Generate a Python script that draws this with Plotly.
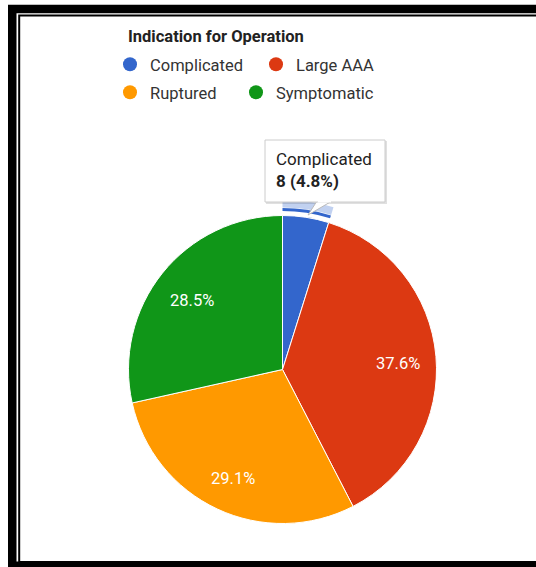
import math
import plotly.graph_objects as go

# ---- data ----
categories = ["Complicated", "Large AAA", "Ruptured", "Symptomatic"]
counts = [8, 62, 48, 47]
colors = ["#3366CC", "#DC3912", "#FF9900", "#109618"]
legend_title = "Indication for Operation"
tooltip_category = "Complicated"

W, H = 536, 567
total = sum(counts)

def px(x):
    return x / W

def py(y):
    return 1 - y / H

cx, cy, R = 282.5, 369.5, 154

def dom(r):
    return dict(x=[px(cx - r), px(cx + r)], y=[py(cy + r), py(cy - r)])

fig = go.Figure()

# hover highlight rings (outer light, inner dark) for the tooltip slice
ti = categories.index(tooltip_category)
ring_light = ["rgba(0,0,0,0)"] * len(categories)
ring_light[ti] = "rgba(51,102,204,0.3)"
ring_dark = ["rgba(0,0,0,0)"] * len(categories)
ring_dark[ti] = colors[ti]

fig.add_trace(go.Pie(labels=categories, values=counts, sort=False, direction="clockwise",
                     domain=dom(170), hole=162 / 170, marker=dict(colors=ring_light, line=dict(width=0)),
                     textinfo="none", hoverinfo="skip", showlegend=False))
fig.add_trace(go.Pie(labels=categories, values=counts, sort=False, direction="clockwise",
                     domain=dom(161.5), hole=158.5 / 161.5, marker=dict(colors=ring_dark, line=dict(width=0)),
                     textinfo="none", hoverinfo="skip", showlegend=False))

fig.add_trace(go.Pie(
    labels=categories, values=counts, sort=False, direction="clockwise",
    domain=dom(R),
    marker=dict(colors=colors, line=dict(color="white", width=1)),
    textinfo="none",
    showlegend=False,
))

# legend entries (circles), one legend per entry for Google-like flow layout
legend_ids = ["legend", "legend2", "legend3", "legend4"]
for c, col, lg in zip(categories, colors, legend_ids):
    fig.add_trace(go.Scatter(x=[None], y=[None], mode="markers", name=c,
                             marker=dict(color=col, size=14, symbol="circle"),
                             legend=lg))

fig.update_xaxes(visible=False)
fig.update_yaxes(visible=False)

legend_common = dict(orientation="h", xanchor="left", yanchor="top", bgcolor="rgba(0,0,0,0)",
                     font=dict(family="Roboto", size=16.5, color="#333"), itemclick=False)

annotations = []
# slice percentage labels at 3/4 of radius, mid-angle of each slice
cum = 0
for c in counts:
    frac = c / total
    mid = (cum + c / 2) / total
    cum += c
    if frac < 0.05:
        continue
    th = 2 * math.pi * mid
    r = 0.755 * R
    annotations.append(dict(text=f"{frac * 100:.1f}%", xref="paper", yref="paper",
                            x=px(cx + r * math.sin(th)), y=py(cy + 4 - r * math.cos(th)),
                            xanchor="center", yanchor="middle", showarrow=False,
                            font=dict(family="Roboto", size=16.5, color="white")))

def rect(x0, x1, y0, y1, color="black"):
    return dict(type="rect", xref="paper", yref="paper", x0=px(x0), x1=px(x1), y0=py(y1), y1=py(y0),
                fillcolor=color, line=dict(width=0))

shapes = [
    # frame: thick outer band (right side runs off the canvas)
    dict(type="rect", xref="paper", yref="paper", x0=px(12.25), x1=px(600), y0=py(565.7), y1=py(9),
         fillcolor="rgba(0,0,0,0)", line=dict(color="black", width=8.5)),
    # frame: thin inner line
    dict(type="rect", xref="paper", yref="paper", x0=px(19.2), x1=px(600), y0=py(562), y1=py(15.5),
         fillcolor="rgba(0,0,0,0)", line=dict(color="black", width=2)),
]

# tooltip box
bx0, bx1, by0, by1 = 265, 385, 140, 202
shapes.append(rect(bx0 + 1, bx1 + 2, by0 + 1, by1 + 2, "rgba(0,0,0,0.12)"))
shapes.append(dict(type="path", xref="paper", yref="paper",
                   path=f"M {px(317)} {py(by1 - 1)} L {px(308)} {py(215)} L {px(332)} {py(by1 - 1)} Z",
                   fillcolor="white", line=dict(color="#bbbbbb", width=1)))
shapes.append(dict(type="rect", xref="paper", yref="paper", x0=px(bx0), x1=px(bx1), y0=py(by1), y1=py(by0),
                   fillcolor="white", line=dict(color="#cccccc", width=1)))
shapes.append(rect(318, 331, by1 - 1.5, by1 + 0.5, "white"))

pct = counts[ti] / total * 100
annotations += [
    dict(text=f"<b>{legend_title}</b>", xref="paper", yref="paper", x=px(126), y=py(37),
         xanchor="left", yanchor="middle", showarrow=False,
         font=dict(family="Roboto", size=16.5, color="#222")),
    dict(text=f"{tooltip_category}<br><b>{counts[ti]} ({pct:.1f}%)</b>", xref="paper", yref="paper",
         x=px(274), y=py(169.5), xanchor="left", yanchor="middle", align="left", showarrow=False,
         font=dict(family="Roboto", size=17, color="#222")),
]

fig.update_layout(
    width=W, height=H, autosize=False,
    margin=dict(l=0, r=0, t=0, b=0),
    paper_bgcolor="white", plot_bgcolor="white",
    legend=dict(**legend_common, x=px(110), y=py(47)),
    legend2=dict(**legend_common, x=px(256), y=py(47)),
    legend3=dict(**legend_common, x=px(110), y=py(75)),
    legend4=dict(**legend_common, x=px(236), y=py(75)),
    shapes=shapes, annotations=annotations,
)

fig.write_html("out.html", config={"displayModeBar": False},
               post_script="document.documentElement.style.overflow='hidden';document.body.style.margin='0';document.body.style.overflow='hidden';")
